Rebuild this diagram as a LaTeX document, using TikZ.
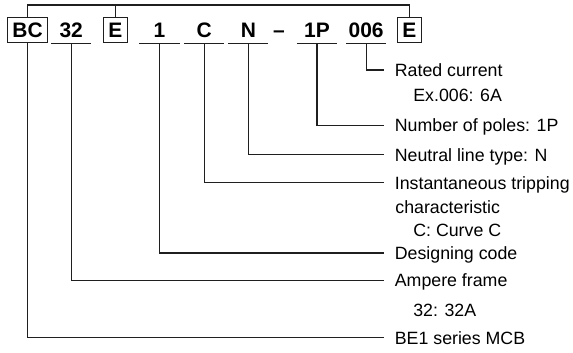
\documentclass[tikz,border=0pt]{standalone}
\usepackage{fontspec}
\setmainfont{Liberation Sans}
\begin{document}
\begin{tikzpicture}[x=1pt,y=-1pt,
  every path/.style={line width=1.2pt,draw=black!88},
  code/.style={font=\fontsize{21}{23}\selectfont\bfseries, text height=15pt, text depth=0pt,
    inner xsep=0pt, inner ysep=5pt, minimum width=39pt},
  boxed/.style={code, draw, line width=1.2pt, minimum width=24pt},
  lbl/.style={font=\fontsize{17.8}{20}\selectfont, anchor=west, inner xsep=10.5pt, inner ysep=0pt,
    text height=12.7pt, text depth=0pt},
  sub/.style={font=\fontsize{17.8}{20}\selectfont, anchor=west, inner sep=0pt,
    text height=12.7pt, text depth=0pt}
]
\useasboundingbox (0,0) rectangle (573,352);
\fill[white] (0,0) rectangle (573,352);

% code row
\node[boxed, minimum width=39.4pt] (bc) at (27,29.8) {BC};
\node[code] (c32) at (70.8,29.8) {32};
\node[boxed] (e1) at (115,29.8) {E};
\node[code] (c1) at (159.2,29.8) {1};
\node[code] (cc) at (204,29.8) {C};
\node[code] (cn) at (248.3,29.8) {N};
\node[code, minimum width=0pt] (dash) at (279,29.6) {--};
\node[code] (c1p) at (317,29.8) {1P};
\node[code] (c006) at (366.3,29.8) {006};
\node[boxed] (e2) at (409.5,29.8) {E};

% underlines
\foreach \n in {c32,c1,cc,cn,c1p,c006}
  \draw (\n.south west) -- (\n.south east);

% top bracket
\coordinate (topy) at (0,4.5);
\draw (bc.north) -- (bc.north |- topy) -| (e2.north);
\draw (e1.north) -- (e1.north |- topy);

% labels
\node[lbl] (lrated) at (384,69.5) {Rated current};
\node[sub] (lex) at (413,95) {Ex.006: 6A};
\node[lbl] (lpoles) at (384,125) {Number of poles: 1P};
\node[lbl] (lneutral) at (384,154.5) {Neutral line type: N};
\node[lbl] (linst) at (384,182.5) {Instantaneous tripping};
\node[sub] (lchar) at (395,206.5) {characteristic};
\node[sub] (lcurve) at (413,230) {C: Curve C};
\node[lbl] (ldesign) at (384,253) {Designing code};
\node[lbl] (lamp) at (384,280.5) {Ampere frame};
\node[sub] (l32) at (413,310.5) {32: 32A};
\node[lbl] (lbe) at (384,338) {BE1 series MCB};

% connectors
\draw (c006.south) |- (lrated.west);
\draw (c1p.south) |- (lpoles.west);
\draw (cn.south) |- (lneutral.west);
\draw (cc.south) |- (linst.west);
\draw (c1.south) |- (ldesign.west);
\draw (c32.south) |- (lamp.west);
\draw (bc.south) |- (lbe.west);
\end{tikzpicture}
\end{document}
